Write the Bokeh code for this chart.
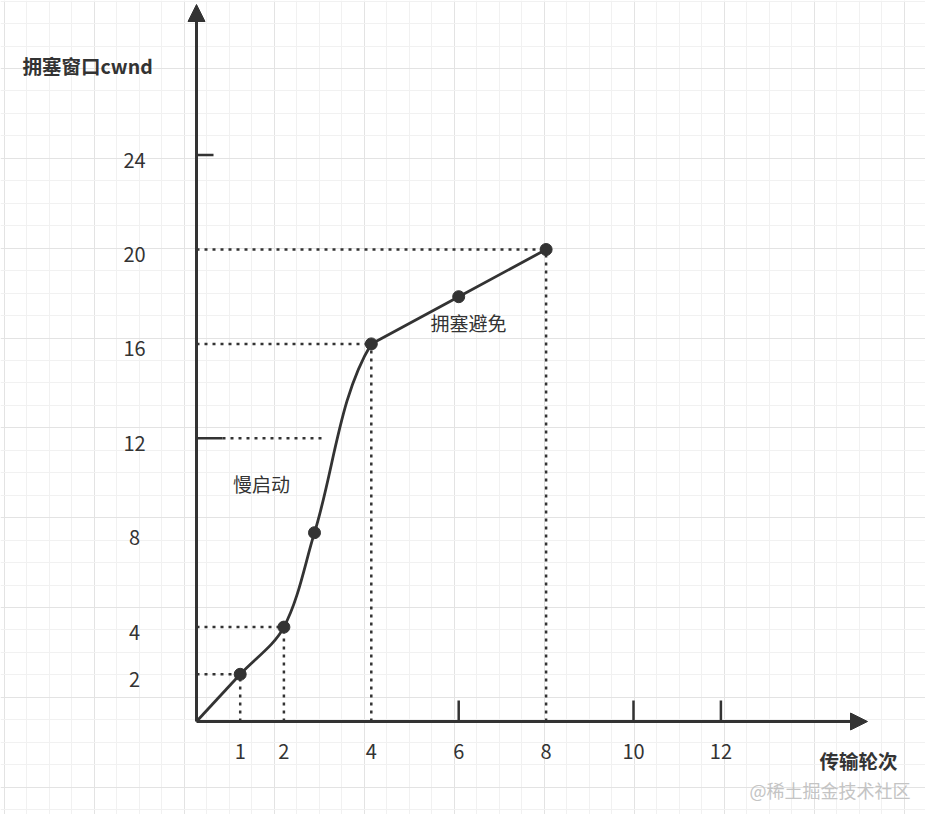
import numpy as np
from bokeh.plotting import figure
from bokeh.models import Range1d, FixedTicker, Arrow, NormalHead, Label
from bokeh.core.properties import value
from bokeh.embed import file_html
from bokeh.resources import INLINE

# ---------------- data ----------------
ss_rounds = [0, 1, 2, 2.7, 4]          # slow start curve (transmission round)
ss_cwnd = [0, 2, 4, 8, 16]             # slow start cwnd
ca_rounds = [4, 6, 8]                  # congestion avoidance
ca_cwnd = [16, 18, 20]
dot_rounds = [1, 2, 2.7, 4, 6, 8]
dot_cwnd = [2, 4, 8, 16, 18, 20]
guide_rounds = [1, 2, 4, 8]            # points projected with dotted lines
guide_cwnd = [2, 4, 16, 20]
ssthresh = 12
ssthresh_reach = 2.9
y_tick_values = [2, 4, 8, 12, 16, 20, 24]
y_tick_labels = ["2", "4", "8", "12", "16", "20", "24"]
x_tick_values = [1, 2, 4, 6, 8, 10, 12]
x_tick_labels = ["1", "2", "4", "6", "8", "10", "12"]
short_y_ticks = [24, 12]
short_x_ticks = [6, 10, 12]
y_title = "拥塞窗口cwnd"
x_title = "传输轮次"
label_ss = "慢启动"
label_ca = "拥塞避免"
watermark = "@稀土掘金技术社区"

# ---------------- layout ----------------
W, H = 925, 814
PX_X, PX_Y = 43.7, 23.6          # pixels per data unit
OX, OY = 196, 721                # origin in canvas pixels
FONT = "Noto Sans CJK SC"
INK = "#333333"

def dx(px):   # canvas px -> data x
    return (px - OX) / PX_X

def dy(py):   # canvas px (from top) -> data y
    return (OY - py) / PX_Y

p = figure(width=W, height=H, output_backend="svg", toolbar_location=None,
           x_range=Range1d(dx(0), dx(W)), y_range=Range1d(dy(H), dy(0)),
           min_border=0, x_axis_location=None, y_axis_location=None)
p.outline_line_color = None
p.background_fill_color = "white"
p.border_fill_color = "white"

# background grid paper
gx_major = [dx(3.7 + 90 * k) for k in range(11)]
gx_minor = [dx(3.7 + 22.5 * k) for k in range(42) if k % 4]
gy_all = [0.6 + 22.46 * k for k in range(37)]
gy_major = [dy(v) for i, v in enumerate(gy_all) if (i - 3) % 4 == 0]
gy_minor = [dy(v) for i, v in enumerate(gy_all) if (i - 3) % 4 != 0]
p.xgrid.ticker = FixedTicker(ticks=gx_major, minor_ticks=gx_minor)
p.ygrid.ticker = FixedTicker(ticks=gy_major, minor_ticks=gy_minor)
for g in (p.xgrid, p.ygrid):
    g.grid_line_color = "#e3e3e3"
    g.grid_line_width = 1
    g.minor_grid_line_color = "#f1f1f1"
    g.minor_grid_line_width = 1

# dotted guide lines
n = len(guide_rounds)
p.segment(x0=[0] * n, y0=guide_cwnd, x1=guide_rounds, y1=guide_cwnd,
          line_color=INK, line_width=2.5, line_dash="3 5")
p.segment(x0=guide_rounds, y0=[0] * n, x1=guide_rounds, y1=guide_cwnd,
          line_color=INK, line_width=2.5, line_dash="3 5")
p.segment(x0=[dx(OX + 26)], y0=[ssthresh], x1=[ssthresh_reach], y1=[ssthresh],
          line_color=INK, line_width=2.5, line_dash="3 5")

# short solid ticks
p.segment(x0=[0, 0], y0=short_y_ticks, x1=[dx(OX + 17), dx(OX + 26)], y1=short_y_ticks,
          line_color=INK, line_width=2.5)
p.segment(x0=short_x_ticks, y0=[0] * len(short_x_ticks), x1=short_x_ticks,
          y1=[dy(OY - 21)] * len(short_x_ticks), line_color=INK, line_width=2.5)

# axes with arrows
head = dict(size=17, fill_color=INK, line_color=INK)
p.add_layout(Arrow(x_start=0, y_start=0, x_end=0, y_end=dy(4),
                   line_color=INK, line_width=3, end=NormalHead(**head)))
p.add_layout(Arrow(x_start=0, y_start=0, x_end=dx(867), y_end=0,
                   line_color=INK, line_width=3, end=NormalHead(**head)))

# smooth slow-start curve: chord-length Hermite spline in screen space,
# continued into the congestion-avoidance line for the joint tangent
chain = np.column_stack([ss_rounds + ca_rounds[1:], ss_cwnd + ca_cwnd[1:]]).astype(float)
S = chain * np.array([PX_X, PX_Y])
h = np.linalg.norm(np.diff(S, axis=0), axis=1)
s = np.diff(S, axis=0) / h[:, None]
m = np.zeros_like(S)
for i in range(1, len(S) - 1):
    m[i] = (S[i + 1] - S[i - 1]) / (h[i - 1] + h[i])
m[0] = 2 * s[0] - m[1]
m[-1] = 2 * s[-1] - m[-2]
nseg = len(ss_rounds) - 1
c0 = np.array([S[i] + m[i] * h[i] / 3 for i in range(nseg)]) / np.array([PX_X, PX_Y])
c1 = np.array([S[i + 1] - m[i + 1] * h[i] / 3 for i in range(nseg)]) / np.array([PX_X, PX_Y])
p.bezier(x0=ss_rounds[:-1], y0=ss_cwnd[:-1], x1=ss_rounds[1:], y1=ss_cwnd[1:],
         cx0=c0[:, 0], cy0=c0[:, 1], cx1=c1[:, 0], cy1=c1[:, 1],
         line_color=INK, line_width=2.8)

# congestion avoidance line
p.line(ca_rounds, ca_cwnd, line_color=INK, line_width=2.8)

# points
p.scatter(dot_rounds, dot_cwnd, size=12, fill_color=INK, line_color=INK)

# tick labels
p.text(x=[0] * len(y_tick_values), y=y_tick_values, text=y_tick_labels,
       x_offset=-62, y_offset=5, text_align="center", text_baseline="middle",
       text_font=value(FONT), text_font_size="20px", text_color=INK)
p.text(x=x_tick_values, y=[0] * len(x_tick_values), text=x_tick_labels,
       y_offset=30, text_align="center", text_baseline="middle",
       text_font=value(FONT), text_font_size="20px", text_color=INK)

# titles and annotations
def lab(x, y, text, size="18px", style="normal", color=INK, align="left"):
    p.add_layout(Label(x=x, y=y, text=text, text_font=FONT, text_font_size=size,
                       text_font_style=style, text_color=color,
                       text_align=align, text_baseline="middle"))

lab(dx(22), dy(65), y_title, size="19.5px", style="bold")
lab(dx(858), dy(760), x_title, size="19.5px", style="bold", align="center")
lab(dx(749), dy(789), watermark, size="18px", color="#c4c4c4")
lab(dx(261), dy(483), label_ss, size="19px", align="center")
lab(dx(468), dy(322), label_ca, size="19px", align="center")

open("out.html", "w").write(file_html(p, INLINE))
